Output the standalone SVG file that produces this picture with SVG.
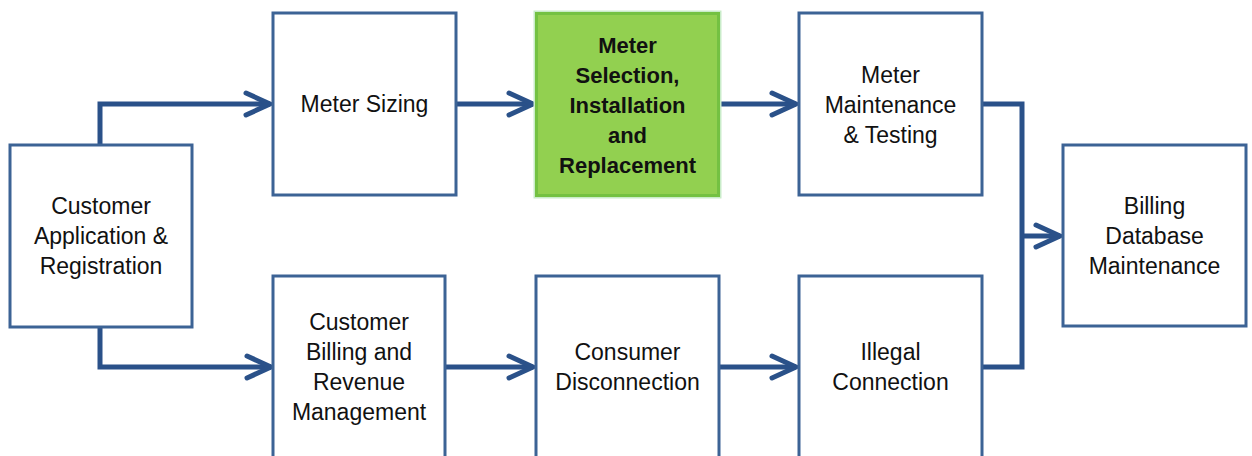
<svg xmlns="http://www.w3.org/2000/svg" width="1252" height="456" viewBox="0 0 1252 456">
  <style>
    .box { fill: #ffffff; stroke: #3c6395; stroke-width: 3; }
    .lbl { font-family: "Liberation Sans", Arial, sans-serif; font-size: 23px; fill: #111111; text-anchor: middle; }
    .bold { font-weight: bold; font-size: 22px; }
    .conn { fill: none; stroke: #2a5189; stroke-width: 5; stroke-linejoin: miter; }
  </style>
  <defs>
    <marker id="arrow" markerUnits="userSpaceOnUse" markerWidth="32" markerHeight="30" viewBox="0 0 32 30" refX="28" refY="15" orient="auto">
      <path d="M4,4 L28,15 L4,26" fill="none" stroke="#2a5189" stroke-width="5" stroke-linecap="round" stroke-linejoin="round"/>
    </marker>
  </defs>

  <rect width="1252" height="456" fill="#ffffff"/>

  <!-- connectors -->
  <g id="connectors">
    <path class="conn" d="M100,145 V104 H270" marker-end="url(#arrow)"/>
    <path class="conn" d="M100,327 V367 H271" marker-end="url(#arrow)"/>
    <path class="conn" d="M457,104 H533" marker-end="url(#arrow)"/>
    <path class="conn" d="M720,104 H796" marker-end="url(#arrow)"/>
    <path class="conn" d="M446,367 H533" marker-end="url(#arrow)"/>
    <path class="conn" d="M720,367 H796" marker-end="url(#arrow)"/>
    <path class="conn" d="M982,104 H1022 V367 H982"/>
    <path class="conn" d="M1022,236 H1060" marker-end="url(#arrow)"/>
  </g>

  <!-- Customer Application & Registration -->
  <g id="customer-application">
    <rect class="box" x="10" y="145" width="182" height="182"/>
    <text class="lbl" x="101" y="214">Customer</text>
    <text class="lbl" x="101" y="244">Application &amp;</text>
    <text class="lbl" x="101" y="274">Registration</text>
  </g>

  <!-- Meter Sizing -->
  <g id="meter-sizing">
    <rect class="box" x="273" y="13" width="183" height="182"/>
    <text class="lbl" x="364.5" y="112">Meter Sizing</text>
  </g>

  <!-- Meter Selection, Installation and Replacement (highlighted) -->
  <g id="meter-selection">
    <rect x="534.5" y="11.5" width="186" height="186" fill="none" stroke="#c9ecc9" stroke-width="2"/>
    <rect x="536.5" y="13.5" width="182" height="182" fill="#92d050" stroke="#74c142" stroke-width="3"/>
    <text class="lbl bold" x="627.5" y="53">Meter</text>
    <text class="lbl bold" x="627.5" y="83">Selection,</text>
    <text class="lbl bold" x="627.5" y="113">Installation</text>
    <text class="lbl bold" x="627.5" y="143">and</text>
    <text class="lbl bold" x="627.5" y="173">Replacement</text>
  </g>

  <!-- Meter Maintenance & Testing -->
  <g id="meter-maintenance">
    <rect class="box" x="799" y="13" width="183" height="182"/>
    <text class="lbl" x="890.5" y="83">Meter</text>
    <text class="lbl" x="890.5" y="113">Maintenance</text>
    <text class="lbl" x="890.5" y="143">&amp; Testing</text>
  </g>

  <!-- Billing Database Maintenance -->
  <g id="billing-database">
    <rect class="box" x="1063" y="145" width="183" height="181"/>
    <text class="lbl" x="1154.5" y="214">Billing</text>
    <text class="lbl" x="1154.5" y="244">Database</text>
    <text class="lbl" x="1154.5" y="274">Maintenance</text>
  </g>

  <!-- Customer Billing and Revenue Management -->
  <g id="customer-billing">
    <rect class="box" x="273" y="276" width="172" height="190"/>
    <text class="lbl" x="359" y="330">Customer</text>
    <text class="lbl" x="359" y="360">Billing and</text>
    <text class="lbl" x="359" y="390">Revenue</text>
    <text class="lbl" x="359" y="420">Management</text>
  </g>

  <!-- Consumer Disconnection -->
  <g id="consumer-disconnection">
    <rect class="box" x="536" y="276" width="183" height="190"/>
    <text class="lbl" x="627.5" y="360">Consumer</text>
    <text class="lbl" x="627.5" y="390">Disconnection</text>
  </g>

  <!-- Illegal Connection -->
  <g id="illegal-connection">
    <rect class="box" x="799" y="276" width="183" height="190"/>
    <text class="lbl" x="890.5" y="360">Illegal</text>
    <text class="lbl" x="890.5" y="390">Connection</text>
  </g>
</svg>
